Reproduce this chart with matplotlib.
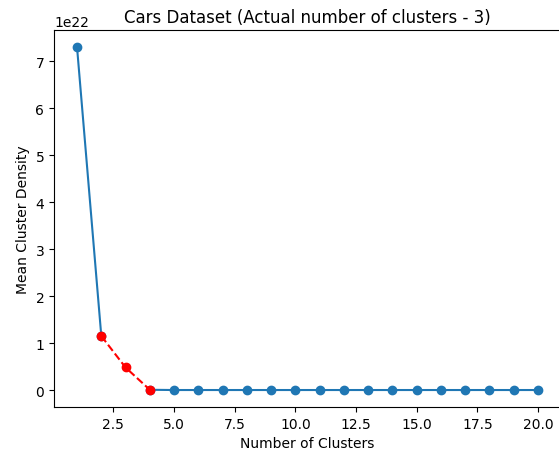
import numpy as np
import matplotlib.pyplot as plt

clusters = np.arange(1, 21)
density = np.array([7.3, 1.15, 0.48, 0.005, 0.0, 0.0, 0.0, 0.0, 0.0, 0.0,
                    0.0, 0.0, 0.0, 0.0, 0.0, 0.0, 0.0, 0.0, 0.0, 0.0]) * 1e22

# blue curve, leaving the 2..4 stretch to the red dashed part
blue = density.copy()
blue[2] = np.nan
elbow_x = clusters[1:4]
elbow_y = density[1:4]

fig, ax = plt.subplots(figsize=(5.59, 4.52), dpi=100)
ax.plot(clusters, blue, 'o-', color='tab:blue')
ax.plot(elbow_x, elbow_y, 'o--', color='red')
ax.set_xlabel('Number of Clusters')
ax.set_ylabel('Mean Cluster Density')
ax.set_title('Cars Dataset (Actual number of clusters - 3)')
# the original image is cut off just before the right spine
plt.subplots_adjust(left=0.0966, right=1.0036, top=0.931, bottom=0.097)
plt.savefig('out.png')
